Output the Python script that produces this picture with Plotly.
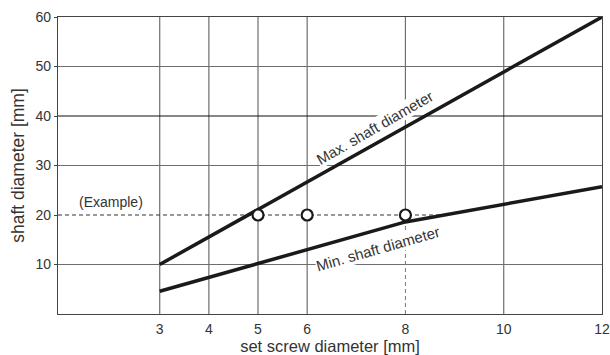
import plotly.graph_objects as go

# data
screw_ticks = [3, 4, 5, 6, 8, 10, 12]
shaft_ticks = [10, 20, 30, 40, 50, 60]

max_screw = [3, 12]
max_shaft = [10, 60]

min_screw = [3, 8, 12]
min_shaft = [4.6, 18.6, 25.7]

example_screw = [5, 6, 8]
example_shaft = 20
example_end = 8.79      # where the dashed line meets the min. curve

X_RANGE = [0.93, 12]
Y_RANGE = [0, 60]

FONT = "Liberation Sans, Arial, sans-serif"
TXT = "#333333"
GRID = "#6e6e6e"

fig = go.Figure()

# dashed example lines
fig.add_trace(go.Scatter(
    x=[X_RANGE[0], example_end], y=[example_shaft, example_shaft],
    mode="lines", line=dict(color="#333333", width=1, dash="4px,3px"),
    hoverinfo="skip"))
fig.add_trace(go.Scatter(
    x=[example_screw[-1], example_screw[-1]], y=[Y_RANGE[0], example_shaft],
    mode="lines", line=dict(color="#777777", width=1, dash="4px,3px"),
    hoverinfo="skip"))

# max / min shaft curves
fig.add_trace(go.Scatter(x=max_screw, y=max_shaft, mode="lines",
                         line=dict(color="#1a1a1a", width=3.5)))
fig.add_trace(go.Scatter(x=min_screw, y=min_shaft, mode="lines",
                         line=dict(color="#1a1a1a", width=3.5)))

# example points
fig.add_trace(go.Scatter(
    x=example_screw, y=[example_shaft] * len(example_screw), mode="markers",
    marker=dict(size=11, color="white", line=dict(color="#1a1a1a", width=2.2))))

# grid lines
shapes = []
for v in screw_ticks[:-1]:
    y0 = example_shaft if v == example_screw[-1] else Y_RANGE[0]
    shapes.append(dict(type="line", xref="x", yref="y", x0=v, x1=v, y0=y0, y1=Y_RANGE[1],
                       line=dict(color=GRID, width=1.2), layer="below"))
for v in shaft_ticks[:-1]:
    if v == example_shaft:
        continue
    col = "#111111" if v == 40 else GRID
    shapes.append(dict(type="line", xref="x", yref="y", x0=X_RANGE[0], x1=X_RANGE[1], y0=v, y1=v,
                       line=dict(color=col, width=1.2 if v != 40 else 1), layer="below"))
fig.update_layout(shapes=shapes)

fig.add_annotation(x=7.38, y=37.6, text="Max. shaft diameter", showarrow=False,
                   textangle=-30, bgcolor="white", borderpad=0,
                   font=dict(family=FONT, size=15, color=TXT))
fig.add_annotation(x=7.45, y=13.3, text="Min. shaft diameter", showarrow=False,
                   textangle=-16, bgcolor="white", borderpad=0,
                   font=dict(family=FONT, size=15, color=TXT))
fig.add_annotation(x=2.0, y=22.6, text="(Example)", showarrow=False,
                   font=dict(family=FONT, size=14, color=TXT))

fig.update_xaxes(range=X_RANGE, tickvals=screw_ticks, showgrid=False, zeroline=False,
                 showline=True, mirror=True, linecolor="#444444", linewidth=1.3,
                 ticks="", ticklabelstandoff=2, automargin=False,
                 tickfont=dict(family=FONT, size=14, color=TXT),
                 title=dict(text="set screw diameter [mm]", standoff=3,
                            font=dict(family=FONT, size=16.5, color=TXT)))
fig.update_yaxes(range=Y_RANGE, tickvals=shaft_ticks, showgrid=False, zeroline=False,
                 showline=True, mirror=True, linecolor="#444444", linewidth=1.3,
                 ticks="outside", ticklen=3, tickcolor="#444444", automargin=False,
                 tickfont=dict(family=FONT, size=14, color=TXT),
                 title=dict(text="shaft diameter [mm]", standoff=6,
                            font=dict(family=FONT, size=17.5, color=TXT)))

fig.update_layout(width=610, height=355, showlegend=False,
                  margin=dict(l=58, r=8, t=17, b=41),
                  plot_bgcolor="white", paper_bgcolor="white")

# drop the default 8px body margin so the figure fills the window exactly
fig.write_html("out.html", config={"displayModeBar": False},
               post_script="document.body.style.margin='0';document.body.style.overflow='hidden';")
